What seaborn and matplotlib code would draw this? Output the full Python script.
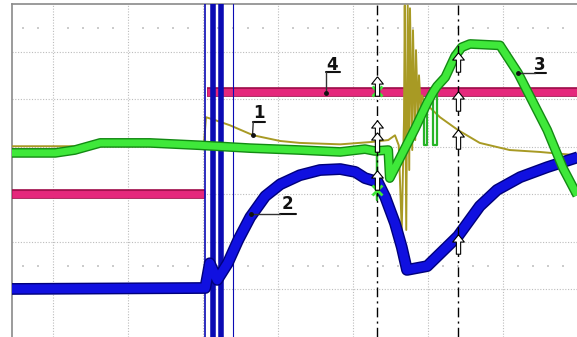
import numpy as np
import seaborn as sns
import matplotlib.patheffects as pe
from matplotlib import pyplot as plt
from matplotlib.path import Path

# time axis in screen divisions, amplitude in divisions (0 = bottom of screen)

# trace 4 (pink), two levels either side of the switching instant
t4_pre, v4_pre = [-0.55, 2.03], [3.0, 3.0]
t4_post, v4_post = [2.05, 7.0], [5.15, 5.15]

# trace 2 (blue)
t2 = [-0.55, 2.03, 2.09, 2.19, 2.33, 2.47, 2.63, 2.83, 3.03, 3.29, 3.56, 3.83,
      4.03, 4.16, 4.33, 4.43, 4.56, 4.65, 4.72, 4.99, 5.4, 5.69, 5.92, 6.23,
      6.59, 7.0]
v2 = [1.01, 1.03, 1.55, 1.2, 1.55, 2.04, 2.52, 2.96, 3.21, 3.40, 3.51, 3.53,
      3.47, 3.34, 3.26, 2.94, 2.39, 1.89, 1.41, 1.49, 2.12, 2.75, 3.09, 3.36,
      3.57, 3.78]
# switching bursts on trace 2
spikes2 = [2.03, 2.13, 2.24, 2.4]
spike_w = [1.2, 4.0, 4.0, 0.8]

# trace 3 (green)
t3 = [-0.55, 0.03, 0.29, 0.63, 1.29, 1.96, 2.63, 3.29, 3.83, 4.16, 4.29,
      4.47, 4.49, 4.83, 4.95, 4.99, 5.07, 5.12, 5.23, 5.36, 5.45, 5.56, 5.96,
      6.2, 6.59, 6.8, 6.99]
v3 = [3.87, 3.87, 3.93, 4.08, 4.08, 4.03, 3.97, 3.93, 3.89, 3.95, 3.91,
      3.93, 3.34, 4.39, 4.79, 4.92, 5.15, 5.27, 5.46, 5.9, 6.09, 6.16, 6.13,
      5.55, 4.35, 3.55, 2.98]
# short dropouts on trace 3: (time, top, bottom, width)
dips3 = [(4.32, 3.91, 2.88, 0.0), (4.95, 4.79, 4.03, 0.04),
         (5.07, 5.15, 4.03, 0.05)]

# trace 1 (olive)
t1 = [-0.55, 2.01, 2.04, 2.16, 2.36, 2.67, 3.03, 3.29, 3.83, 4.25, 4.47, 4.56,
      4.61, 4.65, 4.68, 4.69, 4.71, 4.73, 4.75, 4.76, 4.79, 4.80, 4.83, 4.84,
      4.87, 4.88, 4.91, 4.92, 4.96, 5.16, 5.4, 5.69, 6.09, 6.49, 6.99]
v1 = [4.01, 4.01, 4.62, 4.56, 4.45, 4.24, 4.12, 4.08, 4.05, 4.10, 4.14, 4.24,
      4.03, 2.25, 4.56, 6.97, 2.25, 6.97, 3.51, 6.91, 3.93, 6.45, 4.14, 6.03,
      4.45, 5.5, 4.66, 5.08, 4.92, 4.62, 4.35, 4.08, 3.93, 3.89, 3.82]

# cursors
cursors = [4.32, 5.4]
arrows_a = [5.27, 4.35, 4.1, 3.3]
arrows_b = [5.78, 4.96, 4.16, 1.95]
cross_y = [5.17, 3.09]

sns.set_style("white")

fig = plt.figure(figsize=(5.77, 3.37), dpi=100)
ax = fig.add_axes([12 / 577, 0, 565 / 577, 333 / 337])


def trace(t, v, core, edge, lw, z):
    sns.lineplot(x=t, y=v, sort=False, estimator=None, color=core,
                 linewidth=lw, ax=ax, zorder=z, solid_capstyle="butt",
                 solid_joinstyle="round",
                 path_effects=[pe.Stroke(linewidth=lw + 2, foreground=edge,
                                         capstyle="butt"),
                               pe.Normal()])


trace(t4_pre, v4_pre, "#e5287c", "#a3124f", 5.0, 3)
trace(t4_post, v4_post, "#e5287c", "#a3124f", 5.0, 3)
sns.lineplot(x=t1, y=v1, sort=False, estimator=None, color="#a89a24",
             linewidth=1.4, ax=ax, zorder=4)
for x, w in zip(spikes2, spike_w):
    ax.axvline(x, color="#0a0ab4", lw=w, zorder=5)
trace(t2, v2, "#1010e0", "#00007a", 6.5, 5)
for x, top, bot, w in dips3:
    ax.plot([x, x, x + w, x + w], [top, bot, bot, top], color="#27b427",
            lw=1.6, zorder=6)
trace(t3, v3, "#3fe83a", "#138a13", 5.0, 6)

# cursor lines and markers
for c in cursors:
    ax.axvline(c, color="black", lw=1, linestyle=(0, (7, 3, 1.5, 3)), zorder=7)

arrow = Path([(0, 1), (-0.6, 0.25), (-0.22, 0.25), (-0.22, -1), (0.22, -1),
              (0.22, 0.25), (0.6, 0.25), (0, 1)])
ax.plot([cursors[0]] * len(arrows_a), arrows_a, ls="none", marker=arrow,
        ms=14, mfc="white", mec="black", mew=0.8, zorder=9)
ax.plot([cursors[1]] * len(arrows_b), arrows_b, ls="none", marker=arrow,
        ms=14, mfc="white", mec="black", mew=0.8, zorder=9)
ax.plot([cursors[0]] * 2, cross_y, ls="none", marker="x", ms=7, mew=2,
        color="#3fe83a", zorder=8)

# trace labels with leaders
labels = [("4", 3.72, 5.71, 3.64, 3.83, 5.57, [(3.64, 5.57), (3.64, 5.13)]),
          ("1", 2.75, 4.71, 2.67, 2.83, 4.52, [(2.67, 4.52), (2.66, 4.24)]),
          ("2", 3.13, 2.79, 3.03, 3.24, 2.58, [(3.03, 2.58), (2.64, 2.58)]),
          ("3", 6.49, 5.71, 6.43, 6.57, 5.55, [(6.43, 5.55), (6.2, 5.55)])]
for txt, tx, ty, u0, u1, uy, lead in labels:
    ax.text(tx, ty, txt, ha="center", va="center", fontsize=12,
            fontweight="bold", color="#111111", zorder=10)
    ax.plot([u0, u1], [uy, uy], color="#111111", lw=1.5, zorder=10)
    (a, b), (c, d) = lead
    ax.plot([a, c], [b, d], color="#333333", lw=1, zorder=10)
    ax.plot(c, d, "o", ms=2.5, color="#111111", zorder=10)

# graticule
ax.set_xlim(-0.547, 6.987)
ax.set_ylim(0, 7.0)
ax.set_xticks(range(0, 7))
ax.set_yticks(range(1, 7))
ax.tick_params(length=0, labelbottom=False, labelleft=False)
ax.grid(True, color="#bcbcbc", linestyle=(0, (1, 1.5)), linewidth=0.8)
ax.set_axisbelow(True)
sub = np.array([x for x in np.arange(-0.4, 7.0, 0.2) if abs(x - round(x)) > 0.05])
for yy in (6.5, 1.5):
    ax.scatter(sub, [yy] * len(sub), s=1.5, marker="s", color="#cccccc",
               linewidths=0, zorder=1)

for s in ("right", "bottom"):
    ax.spines[s].set_visible(False)
for s in ("left", "top"):
    ax.spines[s].set_color("#8a8a8a")
    ax.spines[s].set_linewidth(1.2)

fig.savefig("out.png", dpi=100)
